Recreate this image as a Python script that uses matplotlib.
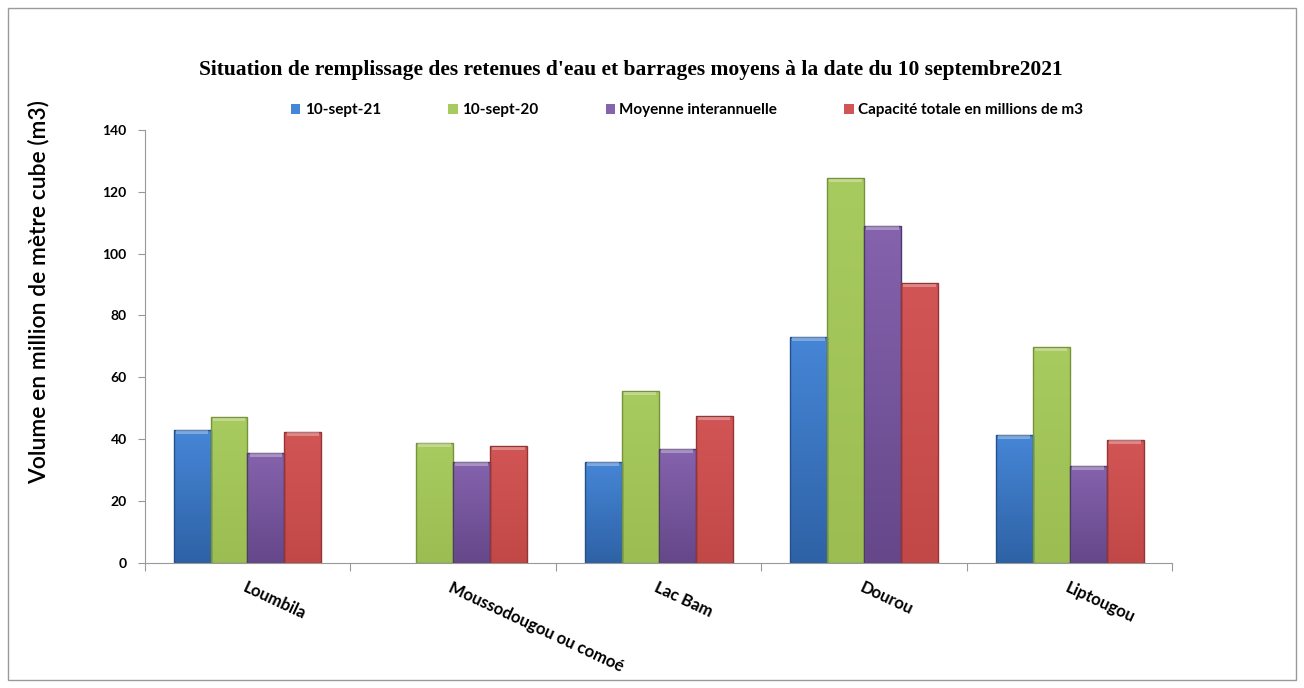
import matplotlib.pyplot as plt
import numpy as np
from matplotlib.patches import Rectangle
from matplotlib.colors import LinearSegmentedColormap

# Volumes des retenues (millions de m3)
barrages = ["Loumbila", "Moussodougou ou comoé", "Lac Bam", "Dourou", "Liptougou"]
sept_21 = [43.0, 0.0, 32.7, 73.1, 41.4]
sept_20 = [47.2, 38.8, 55.6, 124.5, 69.8]
moyenne = [35.6, 32.7, 36.9, 109.0, 31.4]
capacite = [42.4, 37.8, 47.5, 90.5, 39.8]

# nom, valeurs, couleur haut, couleur bas, bordure
series = [
    ("10-sept-21", sept_21, "#4686d6", "#2e62a6", "#24518a"),
    ("10-sept-20", sept_20, "#a8cb60", "#9bbd52", "#76923c"),
    ("Moyenne interannuelle", moyenne, "#8563ad", "#65478a", "#4f3870"),
    ("Capacité totale en millions de m3", capacite, "#d25555", "#c24848", "#943434"),
]

fig = plt.figure(figsize=(13.04, 6.88), dpi=100)
fig.patches.append(Rectangle((0.006, 0.012), 0.988, 0.976, transform=fig.transFigure,
                             fill=False, edgecolor="#9a9a9a", linewidth=1))
ax = fig.add_axes([0.111, 0.182, 0.788, 0.629])

x = np.arange(len(barrages))
w = 0.18
grad = np.linspace(0, 1, 100).reshape(-1, 1)
handles = []
for i, (nom, vals, haut, bas, bord) in enumerate(series):
    pos = x + (i - 1.5) * w
    cmap = LinearSegmentedColormap.from_list(nom, [bas, haut])
    b = ax.bar(pos, vals, width=w, color=haut, edgecolor="none", label=nom, zorder=2)
    for rect, p, v in zip(b.patches, pos, vals):
        if v <= 0:
            continue
        im = ax.imshow(grad, extent=[p - w / 2, p + w / 2, 0, v], origin="lower",
                       aspect="auto", cmap=cmap, zorder=2.1)
        im.set_clip_path(rect)
        ax.add_patch(Rectangle((p - w / 2, 0), w, v, fill=False, edgecolor=bord,
                               linewidth=1, zorder=3))
        # liseré clair en haut de la barre
        ax.add_patch(Rectangle((p - w / 2 + 0.01, v - 1.4), w - 0.02, 1.2,
                               facecolor="white", alpha=0.3, linewidth=0, zorder=3))
    handles.append(b)

ax.set_xlim(-0.5, len(barrages) - 0.5)
ax.set_ylim(0, 140)
ax.set_yticks(range(0, 141, 20))
ax.set_xticks(np.arange(-0.5, len(barrages), 1.0), minor=False)
ax.set_xticklabels([])
ax.set_xticks(x, minor=True)
ax.set_xticklabels(barrages, minor=True, rotation=-25, ha="left", va="top",
                   rotation_mode="anchor", fontsize=12, fontweight="bold",
                   family="Lato")
ax.tick_params(axis="x", which="minor", length=0, pad=12)
ax.tick_params(axis="x", which="major", length=6, color="#999999")
ax.tick_params(axis="y", length=5, color="#999999", labelsize=10, pad=8)
for lab in ax.get_yticklabels():
    lab.set_fontweight("bold")
    lab.set_family("Lato")

for s in ["top", "right"]:
    ax.spines[s].set_visible(False)
for s in ["left", "bottom"]:
    ax.spines[s].set_color("#999999")

ax.set_ylabel("Volume en million de mètre cube (m3)", fontsize=16.5, family="Lato",
              fontweight="semibold")
ax.yaxis.set_label_coords(-0.093, 0.626)

fig.text(0.484, 0.898, "Situation de remplissage des retenues d'eau et barrages moyens à la date du 10 septembre2021",
         ha="center", va="center", fontsize=15.5, fontweight="bold", family="Liberation Serif")

fig.legend(handles=handles, loc="center", bbox_to_anchor=(0.527, 0.840), ncol=4,
           frameon=False, handlelength=0.6, handleheight=0.6,
           handletextpad=0.3, columnspacing=4.4,
           prop={"family": "Lato", "weight": "bold", "size": 11})

fig.savefig("out.png", dpi=100)
